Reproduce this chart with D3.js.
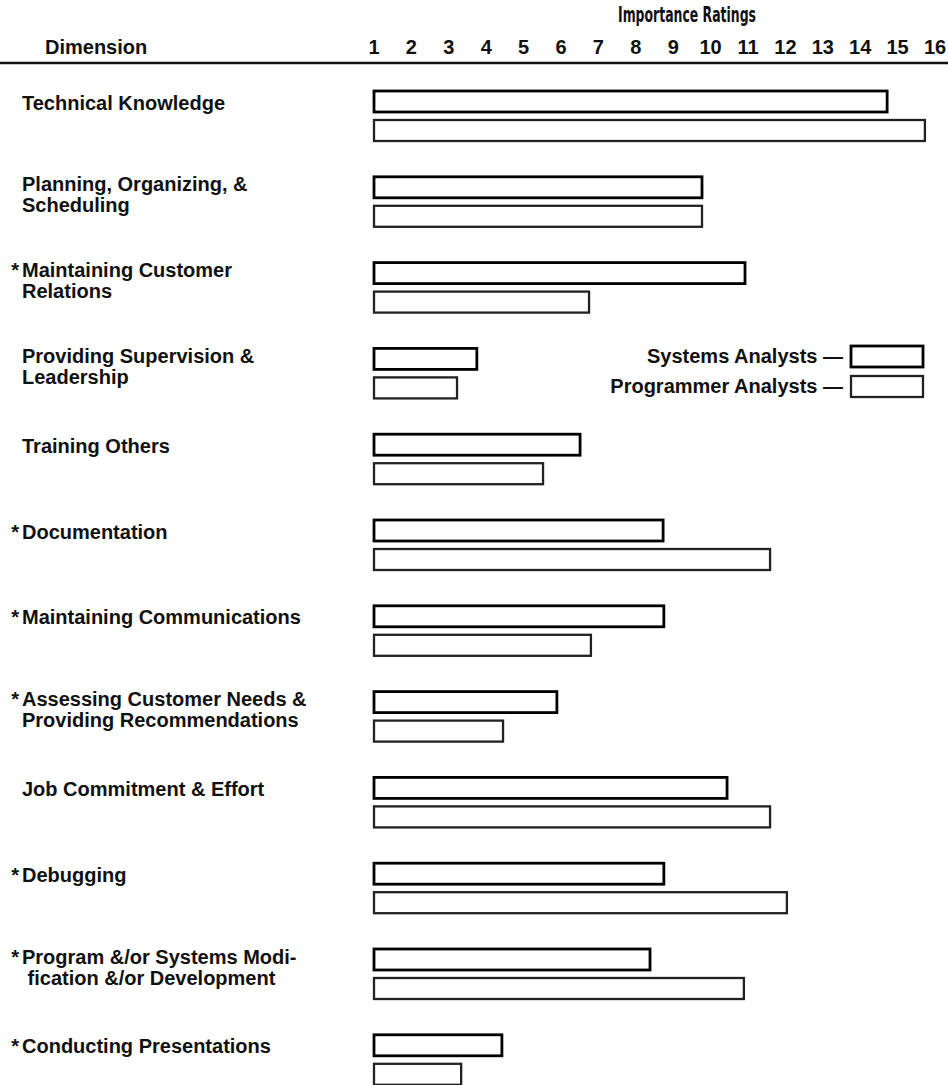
<!DOCTYPE html>
<html>
<head>
<meta charset="utf-8">
<script src="https://cdn.jsdelivr.net/npm/d3@7"></script>
<style>
  body { margin: 0; background: #fff; }
  svg { display: block; }
  .label { font-family: "Liberation Sans", Arial, sans-serif; font-weight: bold; font-size: 20px; fill: #111; }
  .tick-num { font-family: "Liberation Sans", Arial, sans-serif; font-weight: bold; font-size: 20px; fill: #111; }
  .title { font-family: "Liberation Sans Narrow", "DejaVu Sans Condensed", sans-serif; font-weight: bold; font-size: 21px; fill: #111; }
</style>
</head>
<body>
<script>
const dimensions = [
  ["Technical Knowledge"],
  ["Planning, Organizing, &", "Scheduling"],
  ["Maintaining Customer", "Relations"],
  ["Providing Supervision &", "Leadership"],
  ["Training Others"],
  ["Documentation"],
  ["Maintaining Communications"],
  ["Assessing Customer Needs &", "Providing Recommendations"],
  ["Job Commitment & Effort"],
  ["Debugging"],
  ["Program &/or Systems Modi-", " fication &/or Development"],
  ["Conducting Presentations"]
];
const starred = [false, false, true, false, false, true, true, true, false, true, true, true];
const systemsAnalysts = [14.72, 9.77, 10.92, 3.75, 6.51, 8.73, 8.75, 5.89, 10.44, 8.75, 8.38, 4.42];
const programmerAnalysts = [15.73, 9.77, 6.75, 3.22, 5.52, 11.59, 6.80, 4.45, 11.59, 12.04, 10.89, 3.33];
const ratingTicks = d3.range(1, 17);
const seriesNames = ["Systems Analysts", "Programmer Analysts"];

document.addEventListener("DOMContentLoaded", () => {
  const w = 948;
  const h = 1085;

  const svg = d3.select("body")
    .append("svg")
    .attr("width", w)
    .attr("height", h);

  const x = d3.scaleLinear().domain([1, 16]).range([374, 935]);
  const y = d3.scaleBand().domain(d3.range(dimensions.length)).range([91, 91 + 85.8 * dimensions.length]);
  const sub = d3.scaleBand().domain(seriesNames).range([0, 50]).paddingInner(8 / 29);

  // header
  svg.append("text")
    .attr("class", "title")
    .attr("x", 618)
    .attr("y", 22)
    .attr("textLength", 138)
    .attr("lengthAdjust", "spacingAndGlyphs")
    .text("Importance Ratings");

  svg.append("text")
    .attr("class", "label")
    .attr("x", 45)
    .attr("y", 54)
    .text("Dimension");

  svg.selectAll(".tick-num")
    .data(ratingTicks)
    .enter()
    .append("text")
    .attr("class", "tick-num")
    .attr("x", (d) => x(d))
    .attr("y", 54)
    .attr("text-anchor", "middle")
    .text((d) => d);

  svg.append("line")
    .attr("x1", 0)
    .attr("x2", w)
    .attr("y1", 63)
    .attr("y2", 63)
    .attr("stroke", "#111")
    .attr("stroke-width", 2.5);

  // dimension labels
  const groups = svg.selectAll(".dim")
    .data(dimensions)
    .enter()
    .append("g")
    .attr("class", "dim");

  groups.each(function (lines, i) {
    const g = d3.select(this);
    const mid = y(i) + sub("Systems Analysts") + sub.bandwidth() / 2;
    const base = lines.length === 1 ? mid + 8 : mid + 4;
    if (starred[i]) {
      g.append("text")
        .attr("class", "label")
        .attr("x", 19)
        .attr("y", base)
        .attr("text-anchor", "end")
        .text("*");
    }
    lines.forEach((line, k) => {
      g.append("text")
        .attr("class", "label")
        .attr("x", 22)
        .attr("y", base + k * 21)
        .attr("xml:space", "preserve")
        .text(line);
    });
  });

  // bars
  const series = [
    { name: "Systems Analysts", values: systemsAnalysts, stroke: "#000", width: 2.8 },
    { name: "Programmer Analysts", values: programmerAnalysts, stroke: "#222", width: 2.3 }
  ];

  series.forEach((s) => {
    svg.selectAll(".bar-" + s.name.split(" ")[0])
      .data(s.values)
      .enter()
      .append("rect")
      .attr("class", "bar-" + s.name.split(" ")[0])
      .attr("x", x(1))
      .attr("y", (d, i) => y(i) + sub(s.name))
      .attr("width", (d) => x(d) - x(1))
      .attr("height", sub.bandwidth())
      .attr("fill", "#fff")
      .attr("stroke", s.stroke)
      .attr("stroke-width", s.width);
  });

  // legend
  const legend = svg.append("g").attr("class", "legend");
  series.forEach((s, k) => {
    const top = 346 + k * 30;
    legend.append("text")
      .attr("class", "label")
      .attr("x", 843)
      .attr("y", top + 17)
      .attr("text-anchor", "end")
      .text(s.name + " \u2014");
    legend.append("rect")
      .attr("x", 851)
      .attr("y", top)
      .attr("width", 72)
      .attr("height", 21)
      .attr("fill", "#fff")
      .attr("stroke", s.stroke)
      .attr("stroke-width", s.width);
  });
});
</script>
</body>
</html>
